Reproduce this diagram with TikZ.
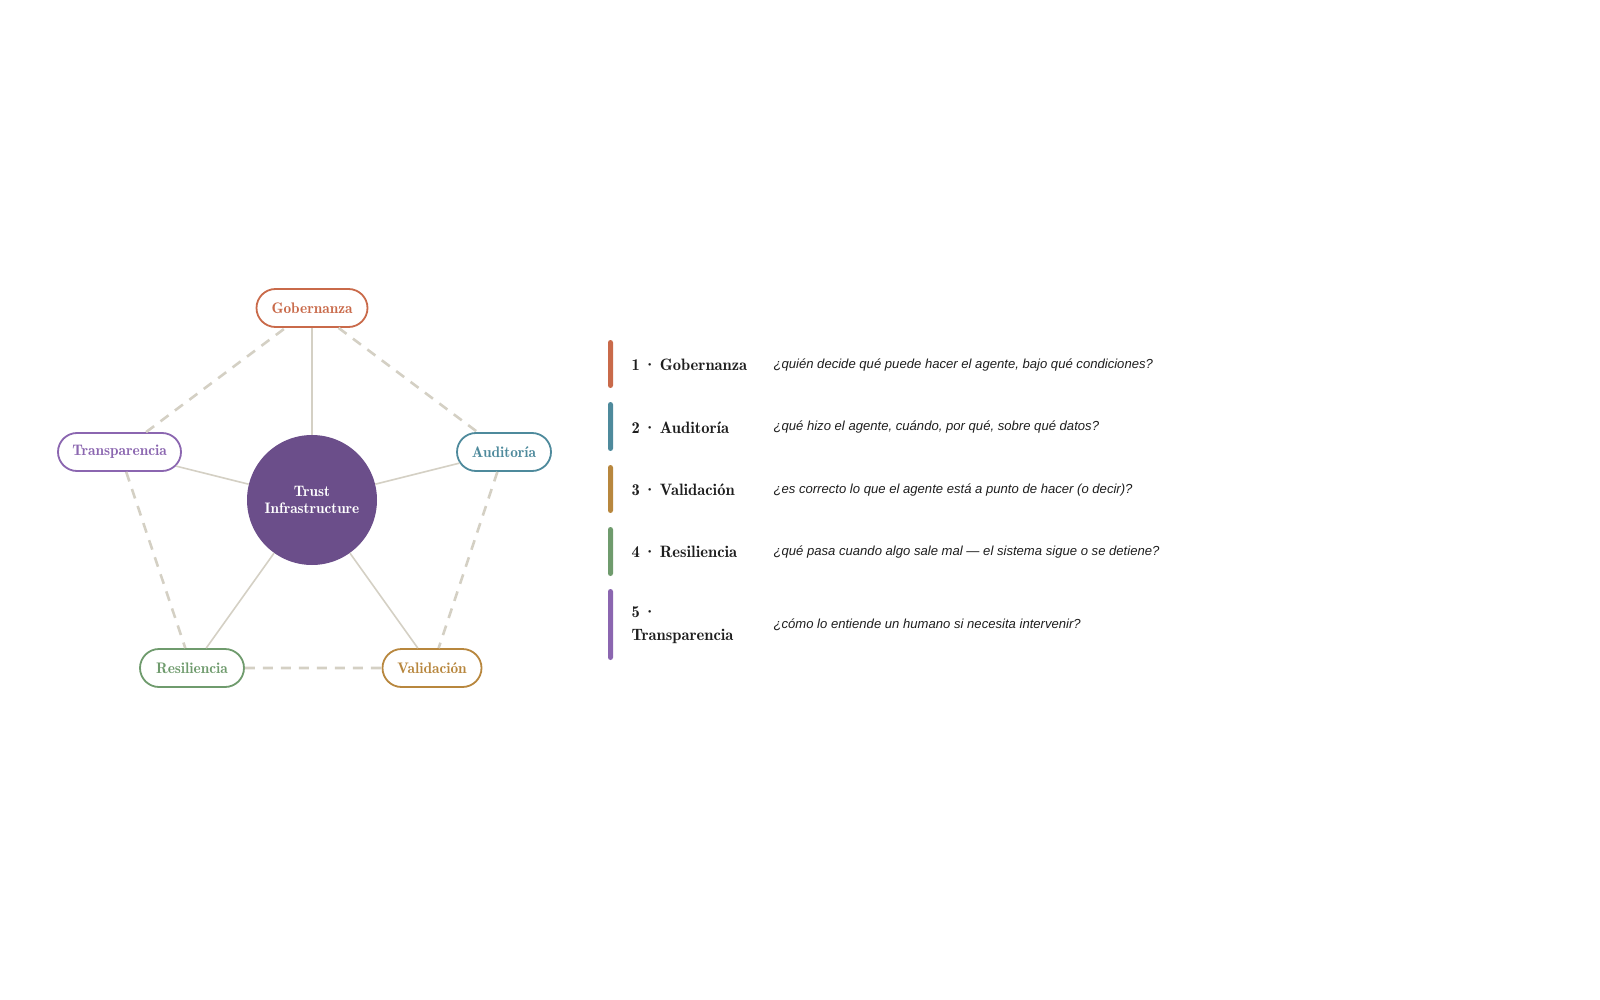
\documentclass[tikz,border=0pt]{standalone}
\usepackage{fontspec}
\usepackage{tikz}
\usepackage{xcolor}
\usetikzlibrary{shapes.misc}
\newfontfamily\questfont{Liberation Sans}
\newfontfamily\demifont{lmromandemi10-regular}[Extension=.otf]
\definecolor{gobcolor}{HTML}{C96A4A}
\definecolor{audcolor}{HTML}{4E8A9C}
\definecolor{valcolor}{HTML}{B8873E}
\definecolor{rescolor}{HTML}{6F9B6D}
\definecolor{tracolor}{HTML}{8B66B0}
\definecolor{corecolor}{HTML}{6B4E8A}
\definecolor{linkgray}{HTML}{D4D0C4}
\definecolor{inkgray}{HTML}{1E1E1E}
\newcommand{\sepdot}{\hspace{0.22em}·\hspace{0.22em}}

\begin{document}
\begin{tikzpicture}[x=1pt, y=-1pt,
    pill/.style={rounded rectangle, draw=#1, text=#1, line width=1.8pt, fill=white, minimum height=38pt, inner xsep=2pt, font=\demifont\fontsize{15.3}{17}\selectfont},
    corecirc/.style={circle, fill=corecolor, text=white, minimum size=130pt, align=center, font=\demifont\fontsize{15.2}{16.5}\selectfont},
    spoke/.style={linkgray, line width=1.6pt},
    ring/.style={linkgray, line width=2.6pt, dash pattern=on 10pt off 8pt},
    ttl/.style={anchor=west, align=left, text=inkgray, font=\demifont\fontsize{16.5}{22.5}\selectfont},
    qst/.style={anchor=west, text=inkgray, font=\questfont\itshape\fontsize{13.1}{15}\selectfont}]
    \useasboundingbox (0,0) rectangle (1600,1000);

    % pentagon
    \node[corecirc] (core) at (312,500) {Trust\\Infrastructure};
    \node[pill=gobcolor, minimum width=115pt] (gob) at (312,308) {Gobernanza};
    \node[pill=audcolor, minimum width=98pt] (aud) at (504,452) {Auditoría};
    \node[pill=valcolor, minimum width=103pt] (val) at (432,668) {Validación};
    \node[pill=rescolor, minimum width=108pt] (res) at (192,668) {Resiliencia};
    \node[pill=tracolor, minimum width=127pt] (tra) at (119.5,452) {Transparencia};

    % spokes
    \draw[spoke] (core) -- (gob);
    \draw[spoke] (core) -- (aud);
    \draw[spoke] (core) -- (val);
    \draw[spoke] (core) -- (res);
    \draw[spoke] (core) -- (tra);

    % outer ring
    \draw[ring] (gob) -- (aud);
    \draw[ring] (aud) -- (val);
    \draw[ring] (res) -- (val);
    \draw[ring] (tra) -- (res);
    \draw[ring] (tra) -- (gob);

    % legend
    \fill[gobcolor, rounded corners=2.5pt] (608,340) rectangle (613,388);
    \node[ttl] (t1) at (628,365) {1\sepdot Gobernanza};
    \node[qst] (q1) at (770,365) {¿quién decide qué puede hacer el agente, bajo qué condiciones?};

    \fill[audcolor, rounded corners=2.5pt] (608,402) rectangle (613,451);
    \node[ttl] (t2) at (628,428) {2\sepdot Auditoría};
    \node[qst] (q2) at (770,427) {¿qué hizo el agente, cuándo, por qué, sobre qué datos?};

    \fill[valcolor, rounded corners=2.5pt] (608,465) rectangle (613,513);
    \node[ttl] (t3) at (628,490) {3\sepdot Validación};
    \node[qst] (q3) at (770,490) {¿es correcto lo que el agente está a punto de hacer (o decir)?};

    \fill[rescolor, rounded corners=2.5pt] (608,527) rectangle (613,576);
    \node[ttl] (t4) at (628,552) {4\sepdot Resiliencia};
    \node[qst] (q4) at (770,552) {¿qué pasa cuando algo sale mal — el sistema sigue o se detiene?};

    \fill[tracolor, rounded corners=2.5pt] (608,589) rectangle (613,660);
    \node[ttl] (t5) at (628,625) {5\sepdot\\Transparencia};
    \node[qst] (q5) at (770,625) {¿cómo lo entiende un humano si necesita intervenir?};
\end{tikzpicture}
\end{document}
